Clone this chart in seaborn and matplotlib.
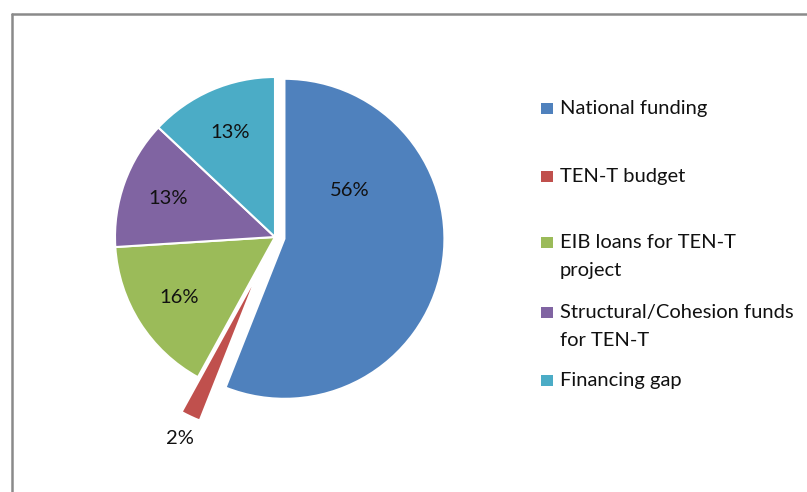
import textwrap

import matplotlib
matplotlib.use("Agg")
import matplotlib.pyplot as plt
import numpy as np
import seaborn as sns
from matplotlib.lines import Line2D
from matplotlib.patches import Rectangle

# Funding sources for the TEN-T programme (share of total, %)
categories = [
    "National funding",
    "TEN-T budget",
    "EIB loans for TEN-T project",
    "Structural/Cohesion funds for TEN-T",
    "Financing gap",
]
shares = [56, 2, 16, 13, 13]
colors = ["#4F81BD", "#C0504D", "#9BBB59", "#8064A2", "#4BACC6"]
explode = [0.06, 0.24, 0, 0, 0]

sns.set_theme(style="white")
plt.rcParams["font.family"] = ["Lato", "DejaVu Sans"]

FS = 14.5
W, H = 807, 492
fig = plt.figure(figsize=(W / 100, H / 100), dpi=100)
fig.patch.set_facecolor("white")
ax = fig.add_axes([0, 0, 1, 1])

wedges, texts, autotexts = ax.pie(
    shares,
    explode=explode,
    colors=colors,
    startangle=90,
    counterclock=False,
    autopct=lambda p: f"{p:.0f}%",
    pctdistance=0.71,
    wedgeprops=dict(edgecolor="white", linewidth=1.5),
    textprops=dict(fontsize=FS, color="#111111"),
)

# pie radius = 160 px, pie centre at (275, 237) px from the top-left corner
R = 160.0
cx, cy = 275.0, 237.0
ax.set_xlim(-cx / R, (W - cx) / R)
ax.set_ylim(-(H - cy) / R, cy / R)
ax.set_aspect("auto")
ax.axis("off")

# the large slice's label sits in its upper-left part
autotexts[0].set_position((0.47, 0.29))

# the small slice is labelled outside, beyond its outer edge
w = wedges[1]
mid = np.deg2rad((w.theta1 + w.theta2) / 2)
c = np.array(w.center)
autotexts[1].set_position(tuple(c + 1.15 * np.array([np.cos(mid), np.sin(mid)])))

# legend
legend_y = [108, 176, 242, 312, 380]
for name, col, y in zip(categories, colors, legend_y):
    fig.patches.append(
        Rectangle((541 / W, 1 - (y + 6) / H), 11.5 / W, 11.5 / H,
                  transform=fig.transFigure, facecolor=col, edgecolor="none")
    )
    fig.text(560 / W, 1 - (y - 8) / H, textwrap.fill(name, 26),
             ha="left", va="top", fontsize=FS, color="#111111", linespacing=1.8)

# chart-area frame (left and top edges visible)
frame_col = "#8a8a8a"
fig.add_artist(Line2D([12 / W, 12 / W], [0, 1 - 14 / H], transform=fig.transFigure,
                      color=frame_col, lw=1.8))
fig.add_artist(Line2D([12 / W, 1], [1 - 14 / H, 1 - 14 / H], transform=fig.transFigure,
                      color=frame_col, lw=1.8))

fig.savefig("out.png", dpi=100, facecolor="white")
